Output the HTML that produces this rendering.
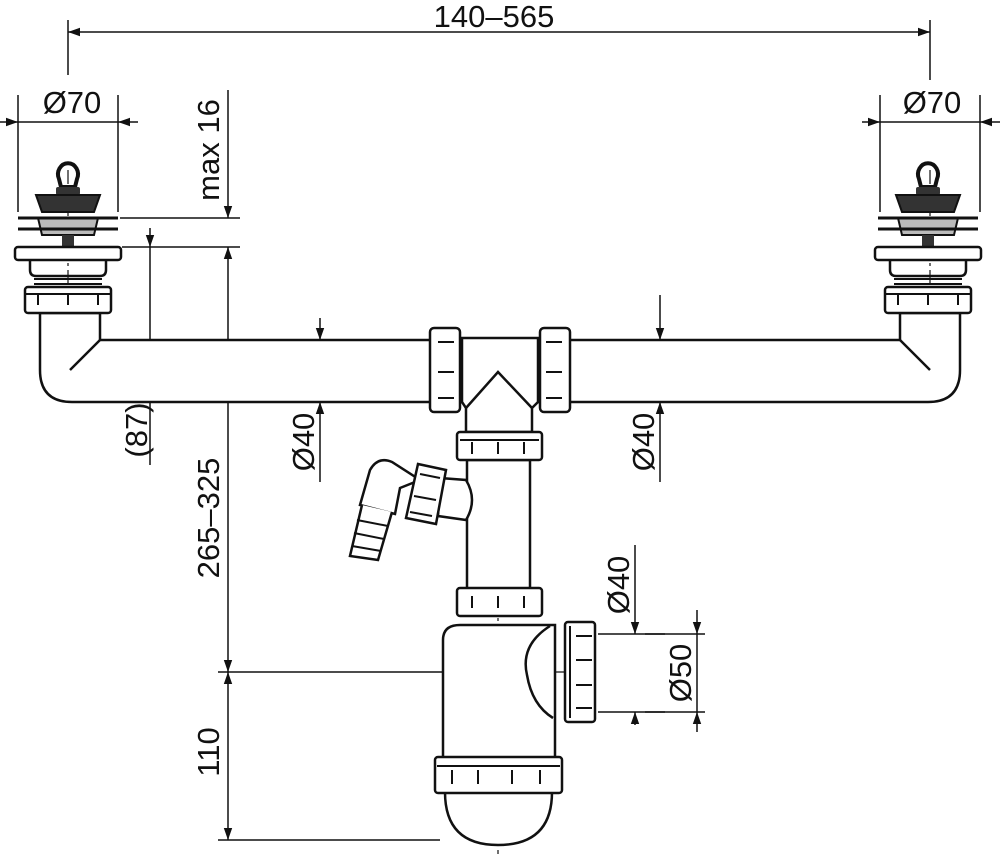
<!DOCTYPE html>
<html><head><meta charset="utf-8"><style>
html,body{margin:0;padding:0;background:#fff;}
svg{display:block;}
text{font-family:"Liberation Sans",sans-serif;font-size:31px;fill:#111;}
</style></head><body>
<svg width="1000" height="854" viewBox="0 0 1000 854" xmlns="http://www.w3.org/2000/svg">
<defs>
<marker id="a" viewBox="0 0 10 10" refX="10" refY="5" markerWidth="12" markerHeight="12" markerUnits="userSpaceOnUse" orient="auto-start-reverse"><path d="M0,1.5 L10,5 L0,8.5 Z" fill="#111"/></marker>
<g id="strainer">
 <path d="M-9,-36 a10,11 0 1,1 18,0 l-2,8 h-14 z" fill="none" stroke="#111" stroke-width="4"/>
 <rect x="-12" y="-28" width="24" height="8" rx="2" fill="#333"/>
 <path d="M-32,-20 h64 l-6,17 h-52 z" fill="#333" stroke="#111" stroke-width="2"/>
 <path d="M-30,3 h60 l-4,17 h-52 z" fill="#bbb" stroke="#111" stroke-width="2"/>
 <line x1="-50" y1="3" x2="50" y2="3" stroke="#111" stroke-width="3"/>
 <line x1="-50" y1="14" x2="50" y2="14" stroke="#111" stroke-width="3"/>
 <rect x="-6" y="20" width="12" height="12" fill="#333"/>
 <rect x="-53" y="32" width="106" height="13" rx="3" fill="#fff" stroke="#111" stroke-width="2.5"/>
 <path d="M-38,45 v10 q0,6 6,6 h64 q6,0 6,-6 v-10" fill="none" stroke="#111" stroke-width="2.5"/>
 <path d="M-34,64 h68 M-34,69 h68" stroke="#111" stroke-width="2"/>
 <rect x="-43" y="72" width="86" height="26" rx="3" fill="#fff" stroke="#111" stroke-width="2.5"/>
 <path d="M-43,79 h86 M-30,79 v11 M0,79 v11 M30,79 v11" stroke="#111" stroke-width="2"/>
</g>
</defs>
<g stroke="#111" stroke-width="1.5" fill="none">
 <line x1="68" y1="20" x2="68" y2="75"/><line x1="930" y1="20" x2="930" y2="80"/>
 <line x1="68" y1="32" x2="930" y2="32" marker-start="url(#a)" marker-end="url(#a)"/>
 <line x1="18" y1="95" x2="18" y2="212"/><line x1="118" y1="95" x2="118" y2="212"/>
 <line x1="0" y1="122" x2="18" y2="122" marker-end="url(#a)"/><line x1="18" y1="122" x2="118" y2="122"/><line x1="138" y1="122" x2="118" y2="122" marker-end="url(#a)"/>
 <line x1="880" y1="95" x2="880" y2="212"/><line x1="980" y1="95" x2="980" y2="212"/>
 <line x1="862" y1="122" x2="880" y2="122" marker-end="url(#a)"/><line x1="880" y1="122" x2="980" y2="122"/><line x1="1000" y1="122" x2="980" y2="122" marker-end="url(#a)"/>
 <line x1="120" y1="218" x2="240" y2="218"/><line x1="122" y1="247" x2="240" y2="247"/>
 <line x1="228" y1="90" x2="228" y2="218" marker-end="url(#a)"/>
 <line x1="228" y1="247" x2="228" y2="672" marker-start="url(#a)" marker-end="url(#a)"/>
 <line x1="228" y1="672" x2="228" y2="840" marker-start="url(#a)" marker-end="url(#a)"/>
 <line x1="218" y1="672" x2="442" y2="672"/><line x1="218" y1="840" x2="440" y2="840"/>
 <line x1="150" y1="228" x2="150" y2="247" marker-end="url(#a)"/><line x1="150" y1="247" x2="150" y2="372"/>
 <line x1="150" y1="465" x2="150" y2="372" marker-end="url(#a)"/>
 <line x1="320" y1="318" x2="320" y2="340" marker-end="url(#a)"/><line x1="320" y1="340" x2="320" y2="402"/><line x1="320" y1="482" x2="320" y2="402" marker-end="url(#a)"/>
 <line x1="660" y1="295" x2="660" y2="340" marker-end="url(#a)"/><line x1="660" y1="340" x2="660" y2="402"/><line x1="660" y1="482" x2="660" y2="402" marker-end="url(#a)"/>
 <line x1="598" y1="634" x2="665" y2="634"/><line x1="598" y1="712" x2="665" y2="712"/>
 <line x1="635" y1="545" x2="635" y2="634" marker-end="url(#a)"/><line x1="635" y1="725" x2="635" y2="712" marker-end="url(#a)"/>
 <line x1="645" y1="634" x2="705" y2="634"/><line x1="645" y1="712" x2="705" y2="712"/>
 <line x1="697" y1="610" x2="697" y2="634" marker-end="url(#a)"/><line x1="697" y1="634" x2="697" y2="712"/><line x1="697" y1="732" x2="697" y2="712" marker-end="url(#a)"/>
 <g stroke-dasharray="14,4,3,4" stroke-width="1.2">
  <line x1="100" y1="372" x2="900" y2="372"/>
  <line x1="68" y1="170" x2="68" y2="340"/><line x1="930" y1="170" x2="930" y2="340"/>
  <line x1="498" y1="350" x2="498" y2="854"/>
  <line x1="500" y1="672" x2="600" y2="672"/>
 </g>
</g>
<g stroke="#111" stroke-width="2.5" fill="#fff">
 <path d="M40,313 V370 Q40,402 72,402 H928 Q960,402 960,370 V313 H900 V340 H100 V313 Z"/>
 <line x1="100" y1="340" x2="70" y2="370"/><line x1="900" y1="340" x2="930" y2="370"/>
 <path d="M462,338 H538 V402 L532,408 V432 H466 V408 L462,402 Z"/>
 <path d="M466,408 L498,372 L532,408" fill="none"/>
 <rect x="430" y="328" width="30" height="84" rx="4"/>
 <rect x="540" y="328" width="30" height="84" rx="4"/>
 <path d="M460,332 v76 M540,332 v76 M438,342 h16 M438,372 h16 M438,398 h16 M546,342 h16 M546,372 h16 M546,398 h16" fill="none" stroke-width="2"/>
 <rect x="467" y="460" width="63" height="130"/>
 <rect x="457" y="432" width="85" height="28" rx="3"/>
 <path d="M472,442 v12 M498,442 v12 M524,442 v12 M460,440 h79" fill="none" stroke-width="2"/>
 <rect x="457" y="588" width="85" height="28" rx="3"/>
 <path d="M472,596 v12 M498,596 v12 M524,596 v12" fill="none" stroke-width="2"/>
 <path d="M440,478 L466,480 Q478,500 466,520 L438,516 Z"/>
 <path d="M392,462 Q378,456 370,470 L360,505 L395,514 L400,488 L420,480 Z"/>
 <path d="M362,505 L350,556 L378,560 L392,512" />
 <path d="M357,520 L388,526 M354,533 L384,539 M352,546 L381,551" fill="none" stroke-width="2"/>
 <path d="M418,464 L446,470 L436,524 L406,518 Z"/>
 <path d="M420,474 L440,478 M414,496 L436,500 M410,512 L432,516" fill="none" stroke-width="2"/>
 <path d="M443,640 Q443,625 460,625 H555 V760 H443 Z"/>
 <path d="M550,626 Q520,645 527,675 Q532,705 553,718" fill="none"/>
 <rect x="565" y="622" width="30" height="100" rx="3"/>
 <path d="M570,626 v92 M576,636 h16 M576,660 h16 M576,685 h16 M576,708 h16" fill="none" stroke-width="2"/>
 <path d="M445,792 Q445,845 498,845 Q552,845 552,792"/>
 <rect x="435" y="757" width="127" height="36" rx="3"/>
 <path d="M437,766 h123 M452,770 v14 M478,770 v14 M512,770 v14 M540,770 v14" fill="none" stroke-width="2"/>
</g>
<use href="#strainer" x="68" y="215"/>
<use href="#strainer" x="928" y="215"/>
<text x="494" y="27" text-anchor="middle">140–565</text>
<text x="72" y="113" text-anchor="middle">Ø70</text>
<text x="932" y="113" text-anchor="middle">Ø70</text>
<text transform="translate(219,150) rotate(-90)" text-anchor="middle">max 16</text>
<text transform="translate(147,430) rotate(-90)" text-anchor="middle">(87)</text>
<text transform="translate(219,518) rotate(-90)" text-anchor="middle">265–325</text>
<text transform="translate(219,752) rotate(-90)" text-anchor="middle">110</text>
<text transform="translate(314,442) rotate(-90)" text-anchor="middle">Ø40</text>
<text transform="translate(654,442) rotate(-90)" text-anchor="middle">Ø40</text>
<text transform="translate(629,585) rotate(-90)" text-anchor="middle">Ø40</text>
<text transform="translate(691,673) rotate(-90)" text-anchor="middle">Ø50</text>
</svg>
</body></html>
